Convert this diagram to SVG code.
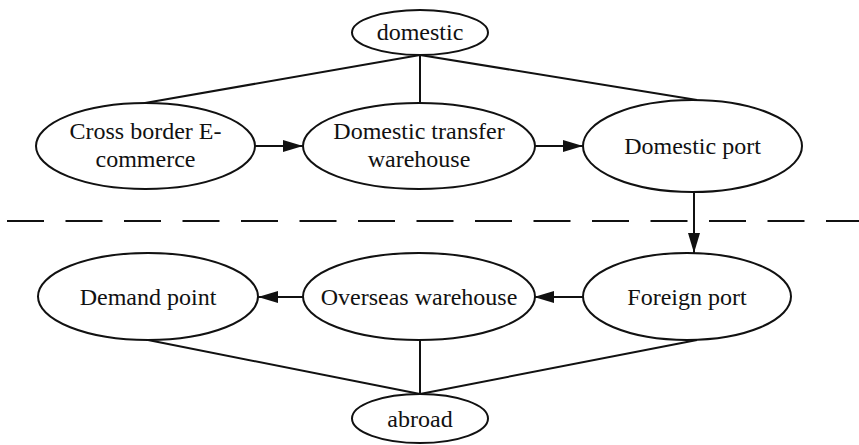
<svg xmlns="http://www.w3.org/2000/svg" width="859" height="445" viewBox="0 0 859 445">
<defs>
<style>
.n ellipse{fill:#fff;stroke:#111;stroke-width:2}
.n text{font-family:"Liberation Serif","Times New Roman",serif;font-size:24px;fill:#111;text-anchor:middle}
.e line{stroke:#111;stroke-width:2}
</style>
<marker id="ah" viewBox="0 0 20 12" refX="20" refY="6" markerWidth="20" markerHeight="12" markerUnits="userSpaceOnUse" orient="auto">
<path d="M0,0 L20,6 L0,12 Z" fill="#111"/>
</marker>
</defs>
<rect width="859" height="445" fill="#fff"/>
<line x1="7" y1="221" x2="859" y2="221" stroke="#111" stroke-width="2" stroke-dasharray="37 21.5"/>
<g class="e">
<line x1="420" y1="55" x2="145" y2="103"/>
<line x1="420" y1="55" x2="420" y2="103"/>
<line x1="420" y1="55" x2="697" y2="100"/>
<line x1="255" y1="146" x2="303" y2="146" marker-end="url(#ah)"/>
<line x1="535" y1="146" x2="583" y2="146" marker-end="url(#ah)"/>
<line x1="694" y1="192" x2="694" y2="253" marker-end="url(#ah)"/>
<line x1="583" y1="297" x2="534" y2="297" marker-end="url(#ah)"/>
<line x1="303" y1="297" x2="258" y2="297" marker-end="url(#ah)"/>
<line x1="148" y1="340" x2="420" y2="394"/>
<line x1="420" y1="340" x2="420" y2="394"/>
<line x1="697" y1="340" x2="420" y2="394"/>
</g>
<g id="domestic" class="n"><ellipse cx="420" cy="32.5" rx="68" ry="22.5"/><text x="420" y="40">domestic</text></g>
<g id="crossborder" class="n"><ellipse cx="145.5" cy="146" rx="109.5" ry="43"/><text x="145.5" y="139">Cross border E-</text><text x="145.5" y="167">commerce</text></g>
<g id="transfer" class="n"><ellipse cx="419" cy="146" rx="116" ry="43"/><text x="419" y="139">Domestic transfer</text><text x="419" y="167">warehouse</text></g>
<g id="domport" class="n"><ellipse cx="692.5" cy="146" rx="109.5" ry="46"/><text x="692.5" y="154">Domestic port</text></g>
<g id="forport" class="n"><ellipse cx="687" cy="296.5" rx="104" ry="43.5"/><text x="687" y="304.5">Foreign port</text></g>
<g id="overseas" class="n"><ellipse cx="419" cy="296.5" rx="116" ry="43.5"/><text x="419" y="304.5">Overseas warehouse</text></g>
<g id="demand" class="n"><ellipse cx="148" cy="296.5" rx="110" ry="43.5"/><text x="148" y="304.5">Demand point</text></g>
<g id="abroad" class="n"><ellipse cx="420" cy="418.5" rx="68" ry="24.5"/><text x="420" y="427">abroad</text></g>
</svg>
